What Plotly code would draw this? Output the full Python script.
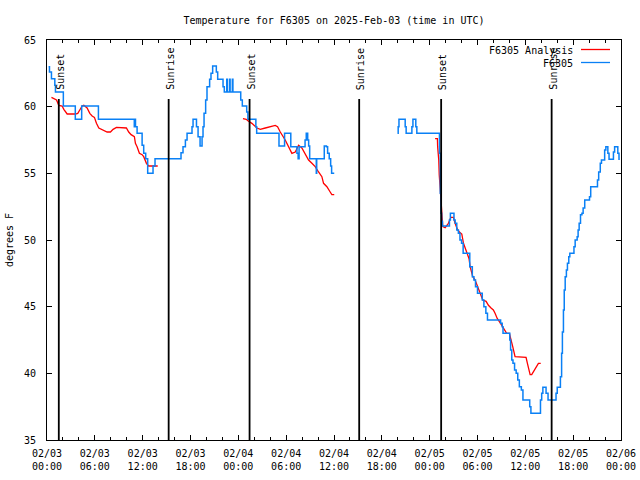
import plotly.graph_objects as go

# ---------------- data (hours since 2025-02-03 00:00 UTC, degrees F) -------------
obs_hours_a = [0.2, 0.31, 0.56, 0.98, 1.06, 2.05, 3.55, 4.35, 6.45, 10.95, 11.0, 11.1, 11.3,
               11.93, 12.13, 12.38, 12.63, 13.3, 13.55, 16.81, 17.06, 17.36, 17.57, 18.19,
               18.32, 18.75, 18.95, 19.2, 19.45, 19.57, 19.7, 19.9, 20.07, 20.4, 20.57, 20.78,
               21.24, 21.41, 22.08, 22.24, 22.55, 22.62, 22.9, 22.97, 23.25, 23.32,
               24.3, 24.5, 25.05, 25.2, 26.2, 26.3, 29.1, 29.8, 30.58, 31.35, 31.5, 31.62,
               32.37, 32.52, 32.7, 32.82, 32.95, 33.78, 33.83, 34.78, 35.05, 35.2, 35.4,
               35.58, 35.7, 36.03]
obs_temp_a = [63.0, 62.6, 62.1, 61.6, 61.1, 60.05, 59.05, 60.05, 59.05, 58.5, 59.05, 58.5, 58.0,
              57.1, 56.5, 56.1, 55.0, 55.55, 56.1, 56.55, 57.0, 57.5, 58.0, 58.5,
              59.05, 58.5, 57.75, 57.05, 57.75, 58.5, 59.5, 60.5, 61.5, 62.05, 62.5, 63.05,
              62.6, 62.05, 61.5, 61.1, 62.05, 61.1, 62.05, 61.1, 62.05, 61.1,
              60.5, 60.05, 59.6, 59.05, 58.5, 58.0, 57.05, 58.0, 57.0, 56.5, 56.1, 57.0,
              57.5, 58.0, 57.5, 57.05, 56.1, 55.0, 56.1, 57.05, 57.0, 56.5, 56.1,
              55.55, 55.0, 55.0]

obs_hours_b = [43.96, 44.05, 44.15, 44.93, 45.05, 45.77, 45.9, 46.26, 46.39, 49.23, 49.33,
               49.42, 49.5, 49.6, 50.48, 50.6, 51.05, 51.2, 51.4, 51.6, 51.8, 52.0, 52.2,
               53.03, 53.35, 53.55, 53.75, 54.0, 54.6, 54.8, 55.05, 55.25, 56.9, 57.1, 57.2,
               58.05, 58.15, 58.3, 58.45, 58.65, 58.85, 59.05, 59.25, 59.5, 59.7, 60.55,
               60.7, 61.9, 62.05, 62.2, 62.6, 62.85, 63.85, 64.0, 64.4, 64.55, 64.65, 64.78,
               64.88, 65.0, 65.15, 65.28, 65.45, 65.58, 66.1, 66.25, 66.5, 66.62, 66.75,
               66.92, 67.1, 67.25, 67.45, 68.05, 68.2, 69.05, 69.2, 69.4, 69.55, 69.95,
               70.1, 70.35, 70.5, 71.05, 71.2, 71.6, 71.75, 71.85]
obs_temp_b = [58.0, 58.5, 59.05, 58.5, 58.0, 58.5, 59.05, 58.5, 58.0, 56.5, 53.5,
              52.0, 51.4, 51.05, 51.5, 52.0, 51.5, 51.25, 50.75, 50.5, 50.0, 49.75, 49.0,
              48.0, 47.25, 47.0, 46.5, 46.0, 45.5, 45.0, 44.5, 44.0, 43.75, 43.5, 43.0,
              42.5, 41.75, 41.0, 40.75, 40.25, 40.0, 39.5, 39.0, 38.75, 38.0, 37.5,
              37.0, 38.0, 38.5, 38.95, 38.5, 38.0, 38.5, 38.95, 39.75, 41.5, 43.1, 44.75,
              46.25, 47.25, 47.75, 48.25, 48.75, 49.0, 49.5, 50.0, 50.25, 50.75, 51.25,
              51.9, 52.0, 52.4, 53.0, 53.25, 54.0, 54.5, 55.1, 55.75, 56.0, 56.75,
              57.0, 56.5, 56.05, 56.6, 57.0, 56.5, 56.05, 56.05]

ana_hours_a = [0.56, 1.19, 1.48, 1.9, 2.11, 2.53, 3.57, 3.86, 4.11, 4.41, 4.62, 5.03, 5.37,
               5.66, 5.95, 6.2, 6.5, 7.12, 7.54, 7.96, 8.29, 8.71, 9.42, 9.96, 10.25, 10.55,
               10.96, 11.09, 11.3, 11.59, 11.93, 12.13, 12.47, 12.76, 13.6, 13.89]
ana_temp_a = [60.7, 60.5, 60.1, 60.05, 59.8, 59.45, 59.45, 59.5, 59.75, 60.05, 60.1, 59.9, 59.5,
              59.3, 59.2, 58.75, 58.4, 58.25, 58.1, 58.1, 58.3, 58.45, 58.4, 58.4, 58.1, 57.9,
              57.75, 57.25, 57.0, 56.5, 56.4, 56.25, 55.75, 55.55, 55.55, 55.55]

ana_hours_b = [24.58, 24.99, 25.28, 25.7, 26.34, 26.75, 27.38, 28.0, 28.63, 28.92, 29.26,
               29.88, 30.3, 30.72, 31.14, 31.56, 31.97, 32.39, 32.81, 33.23, 33.64, 34.06,
               34.48, 34.69, 35.11, 35.52, 35.73, 36.03]
ana_temp_b = [59.1, 59.05, 58.9, 58.75, 58.4, 58.3, 58.4, 58.5, 58.6, 58.5, 58.1,
              57.5, 57.0, 56.5, 56.6, 57.1, 56.9, 56.4, 56.0, 55.75, 55.5, 55.1,
              54.75, 54.25, 54.0, 53.6, 53.4, 53.4]

ana_hours_c = [48.68, 48.97, 49.0, 49.14, 49.2, 49.35, 49.48, 49.6, 49.65, 49.94, 50.35,
               50.65, 50.98, 51.19, 51.48, 51.73, 52.03, 52.24, 52.65, 52.94, 53.07, 53.41,
               53.7, 53.99, 54.32, 54.66, 55.08, 55.37, 55.7, 55.99, 56.2, 56.49, 56.83,
               57.16, 57.45, 57.66, 58.0, 58.17, 58.42, 58.71, 60.09, 60.26, 60.39, 60.6,
               60.8, 61.01, 61.35, 61.64, 61.93]
ana_temp_c = [57.6, 57.6, 57.0, 56.0, 54.9, 53.5, 52.6, 51.5, 51.0, 50.93, 51.25,
              51.7, 51.7, 51.25, 50.8, 50.6, 50.45, 49.75, 49.0, 48.6, 48.0, 47.25,
              47.0, 46.5, 46.0, 45.5, 45.4, 45.1, 44.9, 44.75, 44.5, 44.1, 43.8,
              43.5, 43.25, 43.0, 43.0, 42.5, 42.0, 41.25, 41.2, 40.75, 40.4, 39.9,
              39.9, 40.1, 40.5, 40.75, 40.75]

sun_hours = [1.48, 15.26, 25.41, 39.16, 49.44, 63.3]
sun_labels = ["Sunset", "Sunrise", "Sunset", "Sunrise", "Sunset", "Sunrise"]

tick_hours = [0, 6, 12, 18, 24, 30, 36, 42, 48, 54, 60, 66, 72]
tick_labels = ["02/03<br>00:00", "02/03<br>06:00", "02/03<br>12:00", "02/03<br>18:00",
               "02/04<br>00:00", "02/04<br>06:00", "02/04<br>12:00", "02/04<br>18:00",
               "02/05<br>00:00", "02/05<br>06:00", "02/05<br>12:00", "02/05<br>18:00",
               "02/06<br>00:00"]
y_ticks = [35, 40, 45, 50, 55, 60, 65]

series_names = ["F6305 Analysis", "F6305"]
series_colors = ["#ff0000", "#0a80f5"]

# ---------------- figure ------------------------------------------------------------
FONT = "DejaVu Sans Mono"
ML, MR, MT, MB = 47, 19, 40, 40
W, H = 640, 480
PW, PH = W - ML - MR, H - MT - MB


def px_x(p):
    return (p - ML) / PW


def px_y(p):
    return (H - MB - p) / PH


fig = go.Figure()
fig.add_trace(go.Scatter(x=ana_hours_a + [None] + ana_hours_b + [None] + ana_hours_c,
                         y=ana_temp_a + [None] + ana_temp_b + [None] + ana_temp_c,
                         mode="lines", line=dict(color=series_colors[0], width=1.3),
                         name=series_names[0], showlegend=False, connectgaps=False))
fig.add_trace(go.Scatter(x=obs_hours_a + [None] + obs_hours_b,
                         y=obs_temp_a + [None] + obs_temp_b,
                         mode="lines", line=dict(color=series_colors[1], width=1.5, shape="hv"),
                         name=series_names[1], showlegend=False, connectgaps=False))

shapes = []
annotations = []
for h, lab in zip(sun_hours, sun_labels):
    shapes.append(dict(type="line", xref="x", yref="paper", x0=h, x1=h, y0=0, y1=px_y(99),
                       line=dict(color="black", width=1.8)))
    annotations.append(dict(x=h, y=px_y(92), xref="x", yref="paper", text=lab,
                            textangle=-90, showarrow=False, xanchor="center", yanchor="bottom",
                            xshift=1, font=dict(family=FONT, size=10, color="black")))

# custom legend (text left of the sample line, like the reference)
leg_text_y = [50, 63]
leg_line_y = [49.5, 62.5]
for name, col, ty, ly in zip(series_names, series_colors, leg_text_y, leg_line_y):
    annotations.append(dict(x=px_x(575), y=px_y(ty), xref="paper", yref="paper", text=name,
                            showarrow=False, xanchor="right", yanchor="middle",
                            font=dict(family=FONT, size=10, color="black")))
    shapes.append(dict(type="line", xref="paper", yref="paper", x0=px_x(581), x1=px_x(610),
                       y0=px_y(ly), y1=px_y(ly), line=dict(color=col, width=1.3)))

fig.update_layout(
    width=W, height=H,
    margin=dict(l=ML, r=MR, t=MT, b=MB, pad=0, autoexpand=False),
    paper_bgcolor="white", plot_bgcolor="white",
    font=dict(family=FONT, size=10, color="black"),
    title=dict(text="Temperature for F6305 on 2025-Feb-03 (time in UTC)",
               x=(ML + PW / 2) / W, xanchor="center", y=1 - 20 / H, yanchor="middle",
               font=dict(family=FONT, size=10, color="black")),
    shapes=shapes, annotations=annotations,
    showlegend=False,
)
fig.update_xaxes(range=[0, 72], tickmode="array", tickvals=tick_hours, ticktext=tick_labels,
                 ticks="inside", ticklen=5, tickcolor="black", showline=True, linecolor="black",
                 linewidth=1, mirror="allticks", showgrid=False, zeroline=False,
                 ticklabelstandoff=4, automargin=False,
                 minor=dict(tickmode="linear", tick0=0, dtick=2, ticks="inside", ticklen=3,
                            tickcolor="black", showgrid=False))
fig.update_yaxes(range=[35, 65], tickmode="array", tickvals=y_ticks,
                 ticktext=[str(v) for v in y_ticks],
                 ticks="inside", ticklen=5, tickcolor="black", showline=True, linecolor="black",
                 linewidth=1, mirror="allticks", showgrid=False, zeroline=False,
                 ticklabelstandoff=8, automargin=False,
                 title=dict(text="degrees F", standoff=8,
                            font=dict(family=FONT, size=10, color="black")))

fig.write_html("out.html", config={"displayModeBar": False},
               post_script="document.body.style.margin='0px';document.body.style.padding='0px';")
